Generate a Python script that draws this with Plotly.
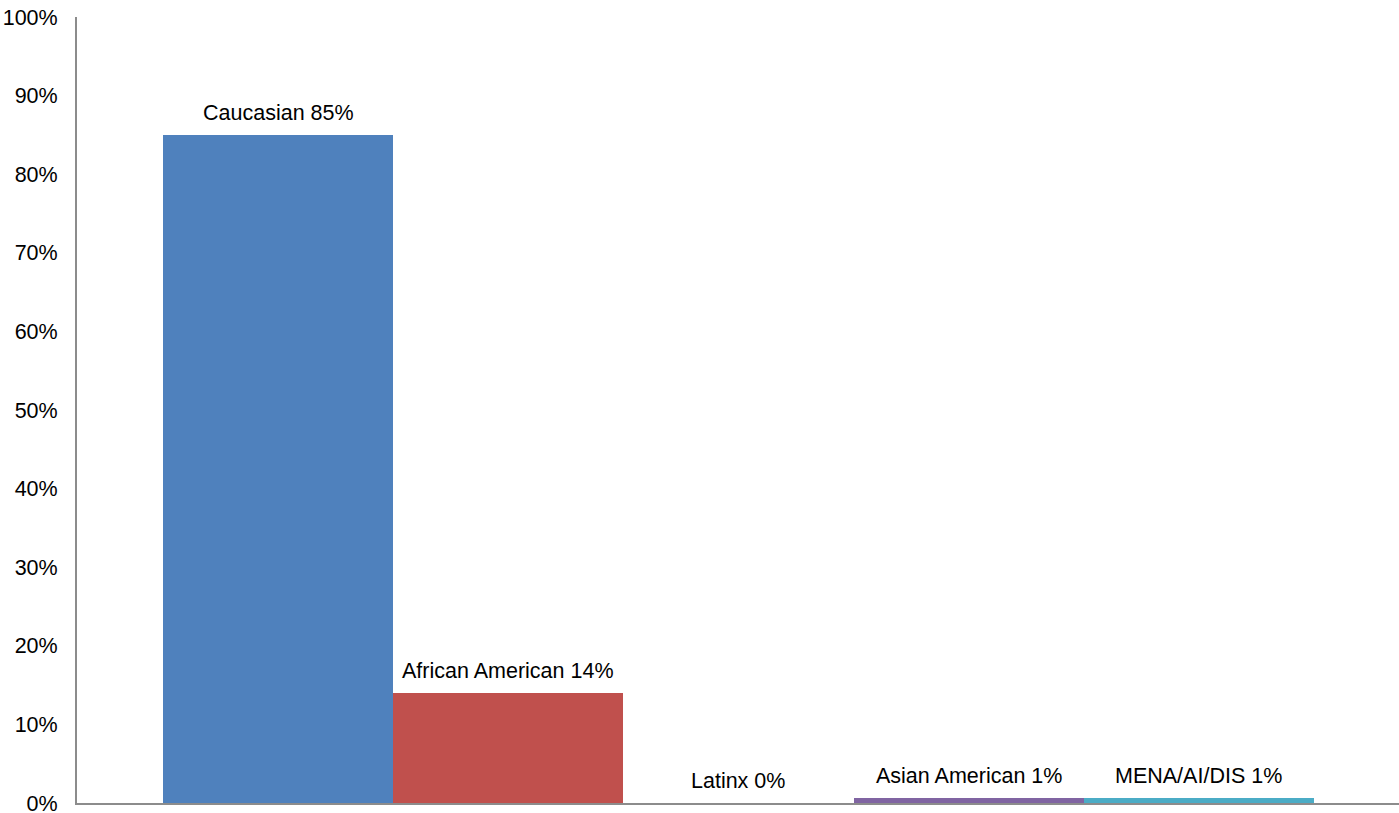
import plotly.graph_objects as go

categories = ["Caucasian", "African American", "Latinx", "Asian American", "MENA/AI/DIS"]
values = [85, 14, 0, 0.6, 0.6]
value_labels = ["85%", "14%", "0%", "1%", "1%"]
colors = ["#4F81BD", "#C0504D", "#9BBB59", "#8064A2", "#4BACC6"]
y_ticks = list(range(0, 101, 10))
y_tick_text = [f"{t}%" for t in y_ticks]

FONT = "Liberation Sans, Arial, sans-serif"
FS = 21.5

texts = [f"{c} {l}" for c, l in zip(categories, value_labels)]

fig = go.Figure(go.Bar(
    x=categories,
    y=values,
    marker=dict(color=colors, line=dict(width=0)),
    hoverinfo="skip",
))

for c, v, t in zip(categories, values, texts):
    fig.add_annotation(
        x=c, y=v, text=t, showarrow=False,
        xref="x", yref="y",
        yanchor="bottom", yshift=8,
        font=dict(size=FS, color="black", family=FONT),
    )

fig.update_layout(
    width=1399, height=813,
    margin=dict(l=77, r=0, t=17, b=10),
    plot_bgcolor="white", paper_bgcolor="white",
    bargap=0,
    showlegend=False,
    font=dict(family=FONT, size=FS, color="black"),
)
fig.update_xaxes(
    type="category",
    range=[-0.874, 4.87],
    showticklabels=False,
    showgrid=False,
    zeroline=False,
    showline=True, linecolor="#8C8C8C", linewidth=2,
    ticks="",
    automargin=False,
)
fig.update_yaxes(
    range=[0, 100],
    tickvals=y_ticks,
    ticktext=y_tick_text,
    showgrid=False,
    zeroline=False,
    showline=True, linecolor="#8C8C8C", linewidth=2,
    ticks="",
    ticklabelstandoff=13,
    ticklabeloverflow="allow",
    automargin=False,
    tickfont=dict(size=FS, color="black", family=FONT),
)

fig.write_html("out.html")
